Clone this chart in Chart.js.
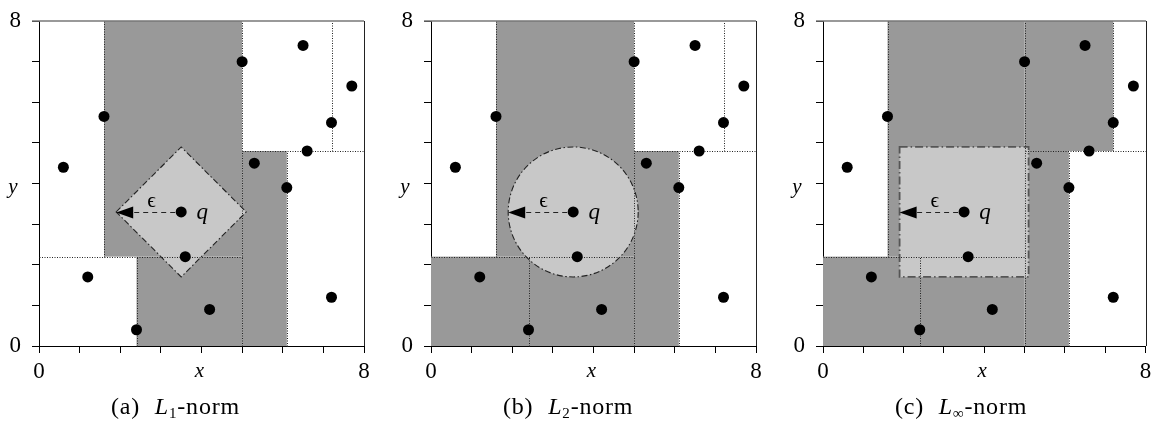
<!DOCTYPE html>
<html>
<head>
<meta charset="utf-8">
<script src="https://cdn.jsdelivr.net/npm/chart.js@4.4.1/dist/chart.umd.min.js"></script>
<style>
  body { margin: 0; background: #fff; width: 1151px; height: 423px; overflow: hidden; position: relative; }
  canvas { position: absolute; top: 0; }
  .cap { position: absolute; top: 393px; font-family: "Liberation Serif", "Times New Roman", Times, "DejaVu Serif", "Noto Serif", serif; font-size: 24px; line-height: 26px; white-space: nowrap; letter-spacing: 0.8px; word-spacing: 8px; }
  .cap sub { font-size: 15px; line-height: 0; vertical-align: -4px; }
</style>
</head>
<body>
<canvas id="chart-l1" width="390" height="423" style="left:0px"></canvas>
<canvas id="chart-l2" width="390" height="423" style="left:392px"></canvas>
<canvas id="chart-linf" width="367" height="423" style="left:784px"></canvas>
<div class="cap" style="left:111px">(a) <i>L</i><sub>1</sub>-norm</div>
<div class="cap" style="left:503px">(b) <i>L</i><sub>2</sub>-norm</div>
<div class="cap" style="left:895px">(c) <i>L</i><sub>∞</sub>-norm</div>
<script>
// data points (kd-tree)
const pointsX = [0.6, 1.2, 1.6, 2.4, 3.6, 4.2, 5.0, 5.3, 6.1, 6.5, 6.6, 7.2, 7.7, 7.2];
const pointsY = [4.4, 1.7, 5.65, 0.4, 2.2, 0.9, 7.0, 4.5, 3.9, 7.4, 4.8, 5.5, 6.4, 1.2];
// query point and radius
const queryX = 3.5;
const queryY = 3.3;
const epsilon = 1.6;
// split lines [x1, y1, x2, y2]
const splitLines = [
  [5, 0, 5, 8],
  [0, 2.2, 5, 2.2],
  [1.6, 2.2, 1.6, 8],
  [2.4, 0, 2.4, 2.2],
  [5, 4.8, 8, 4.8],
  [7.2, 4.8, 7.2, 8],
  [6.1, 0, 6.1, 4.8],
];
// visited cells [x1, y1, x2, y2]
const cellsL1 = [[1.6, 2.2, 5, 8], [2.4, 0, 5, 2.2], [5, 0, 6.1, 4.8]];
const cellsL2 = [[1.6, 2.2, 5, 8], [0, 0, 5, 2.2], [5, 0, 6.1, 4.8]];
const cellsLinf = [[1.6, 2.2, 5, 8], [0, 0, 5, 2.2], [5, 0, 6.1, 4.8], [5, 4.8, 7.2, 8]];
const tickValues = [0, 8];

const serif = '"Liberation Serif", "Times New Roman", Times, "DejaVu Serif", "Noto Serif", serif';

const kdPlugin = {
  id: 'kd',
  beforeDatasetsDraw(chart, args, opts) {
    const ctx = chart.ctx, xs = chart.scales.x, ys = chart.scales.y;
    const px = v => xs.getPixelForValue(v), py = v => ys.getPixelForValue(v);
    ctx.save();
    ctx.fillStyle = '#999999';
    opts.cells.forEach(c => {
      ctx.fillRect(px(c[0]), py(c[3]), px(c[2]) - px(c[0]), py(c[1]) - py(c[3]));
    });
    // norm ball
    const qx = px(queryX), qy = py(queryY);
    const rx = px(queryX + epsilon) - qx, ry = qy - py(queryY + epsilon);
    ctx.beginPath();
    if (opts.norm === 'l1') {
      ctx.moveTo(qx - rx, qy);
      ctx.lineTo(qx, qy - ry);
      ctx.lineTo(qx + rx, qy);
      ctx.lineTo(qx, qy + ry);
      ctx.closePath();
    } else if (opts.norm === 'l2') {
      ctx.ellipse(qx, qy, rx, ry, 0, 0, Math.PI * 2);
    } else {
      ctx.rect(qx - rx, qy - ry, rx * 2, ry * 2);
    }
    ctx.fillStyle = '#c8c8c8';
    ctx.fill();
    ctx.setLineDash(opts.norm === 'linf' ? [8, 3, 1.5, 3] : [6, 2.5, 1.5, 2.5]);
    ctx.lineWidth = opts.norm === 'linf' ? 1.8 : 1.1;
    ctx.strokeStyle = opts.norm === 'linf' ? '#555' : '#222';
    ctx.stroke();
    // split lines
    ctx.setLineDash([1, 1.5]);
    ctx.lineWidth = 1;
    ctx.strokeStyle = '#222';
    splitLines.forEach(s => {
      ctx.beginPath();
      ctx.moveTo(Math.round(px(s[0])) + 0.5, Math.round(py(s[1])) + 0.5);
      ctx.lineTo(Math.round(px(s[2])) + 0.5, Math.round(py(s[3])) + 0.5);
      ctx.stroke();
    });
    ctx.restore();
  },
  afterDatasetsDraw(chart) {
    const ctx = chart.ctx, xs = chart.scales.x, ys = chart.scales.y, a = chart.chartArea;
    const px = v => xs.getPixelForValue(v), py = v => ys.getPixelForValue(v);
    ctx.save();
    // top and right frame
    ctx.strokeStyle = '#777';
    ctx.lineWidth = 1.6;
    ctx.beginPath();
    ctx.moveTo(a.left - 7, Math.round(a.top));
    ctx.lineTo(Math.round(a.right), Math.round(a.top));
    ctx.stroke();
    ctx.strokeStyle = '#222';
    ctx.lineWidth = 1;
    ctx.beginPath();
    ctx.moveTo(Math.round(a.right) + 0.5, a.top);
    ctx.lineTo(Math.round(a.right) + 0.5, a.bottom);
    ctx.stroke();
    // epsilon arrow
    const qx = px(queryX), qy = Math.round(py(queryY)) + 0.5;
    const tip = px(queryX - epsilon);
    ctx.setLineDash([5, 4]);
    ctx.beginPath();
    ctx.moveTo(qx - 6, qy);
    ctx.lineTo(tip + 16, qy);
    ctx.stroke();
    ctx.setLineDash([]);
    ctx.fillStyle = '#000';
    ctx.beginPath();
    ctx.moveTo(tip, qy);
    ctx.lineTo(tip + 17, qy - 6);
    ctx.lineTo(tip + 17, qy + 6);
    ctx.closePath();
    ctx.fill();
    // labels
    ctx.textAlign = 'center';
    ctx.textBaseline = 'middle';
    ctx.font = '21px ' + serif;
    ctx.fillText('\u03f5', px(2.77), py(3.55));
    ctx.font = 'italic 23px ' + serif;
    ctx.fillText('q', px(4.02), py(3.27));
    ctx.font = 'italic 21px ' + serif;
    ctx.fillText('x', px(3.95), 371);
    ctx.fillText('y', 13, py(3.9));
    ctx.restore();
  }
};

function makeChart(id, cells, norm, rightPad) {
  return new Chart(document.getElementById(id), {
    type: 'scatter',
    data: {
      datasets: [{
        data: pointsX.map((x, i) => ({ x: x, y: pointsY[i] })).concat([{ x: queryX, y: queryY }]),
        backgroundColor: '#000',
        borderWidth: 0,
        pointRadius: 5.5,
        pointHoverRadius: 5.5
      }]
    },
    options: {
      responsive: false,
      animation: false,
      events: [],
      layout: { padding: { top: 21, left: 0, right: rightPad, bottom: 0 } },
      plugins: {
        legend: { display: false },
        tooltip: { enabled: false },
        kd: { cells: cells, norm: norm }
      },
      scales: {
        x: {
          type: 'linear', min: 0, max: 8,
          afterFit: s => { s.height = 77; s.paddingLeft = 0; s.paddingRight = 0; },
          ticks: {
            stepSize: 1, autoSkip: false, maxRotation: 0, padding: 5, color: '#000',
            font: { family: serif, size: 23 },
            callback: v => tickValues.includes(v) ? v : ''
          },
          grid: { drawOnChartArea: false, drawTicks: true, tickLength: 7, color: '#000' },
          border: { display: true, color: '#000', width: 1 }
        },
        y: {
          type: 'linear', min: 0, max: 8,
          afterFit: s => { s.width = 39; s.paddingTop = 0; s.paddingBottom = 0; },
          ticks: {
            stepSize: 1, autoSkip: false, padding: 11, color: '#000',
            font: { family: serif, size: 23 },
            callback: v => tickValues.includes(v) ? v : ''
          },
          grid: { drawOnChartArea: false, drawTicks: true, tickLength: 7, color: '#000' },
          border: { display: true, color: '#000', width: 1 }
        }
      }
    },
    plugins: [kdPlugin]
  });
}

const chartL1 = makeChart('chart-l1', cellsL1, 'l1', 26);
const chartL2 = makeChart('chart-l2', cellsL2, 'l2', 26);
const chartLinf = makeChart('chart-linf', cellsLinf, 'linf', 3);
</script>
</body>
</html>
